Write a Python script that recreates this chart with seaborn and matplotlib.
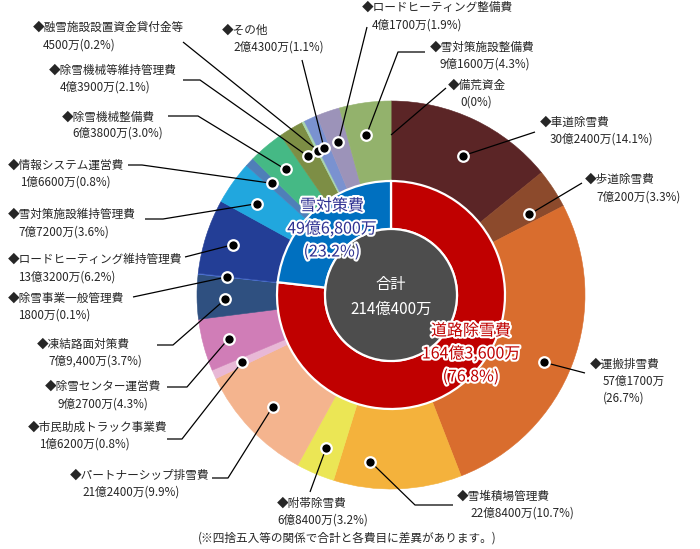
import numpy as np
import matplotlib
matplotlib.use("Agg")
import matplotlib.pyplot as plt
import matplotlib.patheffects as pe
from matplotlib.patches import Circle
import seaborn as sns

# --- data (単位: 万円) ---
group_names = ["道路除雪費", "雪対策費"]
group_values = [1643600, 496800]
group_amounts = ["164億3,600万", "49億6,800万"]
group_pcts = ["(76.8%)", "(23.2%)"]
total_label = "214億400万"

item_names = [
    "車道除雪費", "歩道除雪費", "運搬排雪費", "雪堆積場管理費", "附帯除雪費",
    "パートナーシップ排雪費", "市民助成トラック事業費", "除雪センター運営費",
    "凍結路面対策費", "除雪事業一般管理費",
    "ロードヒーティング維持管理費", "雪対策施設維持管理費", "情報システム運営費",
    "除雪機械整備費", "除雪機械等維持管理費", "融雪施設設置資金貸付金等",
    "その他", "ロードヒーティング整備費", "雪対策施設整備費", "備荒資金",
]
item_values = [
    302400, 70200, 571700, 228400, 68400, 212400, 16200, 92700, 79400, 1800,
    133200, 77200, 16600, 63800, 43900, 4500, 24300, 41700, 91600, 0,
]
item_amounts = [
    "30億2400万", "7億200万", "57億1700万", "22億8400万", "6億8400万",
    "21億2400万", "1億6200万", "9億2700万", "7億9,400万", "1800万",
    "13億3200万", "7億7200万", "1億6600万", "6億3800万", "4億3900万",
    "4500万", "2億4300万", "4億1700万", "9億1600万", "0",
]
item_pcts = [
    "(14.1%)", "(3.3%)", "(26.7%)", "(10.7%)", "(3.2%)", "(9.9%)", "(0.8%)",
    "(4.3%)", "(3.7%)", "(0.1%)", "(6.2%)", "(3.6%)", "(0.8%)", "(3.0%)",
    "(2.1%)", "(0.2%)", "(1.1%)", "(1.9%)", "(4.3%)", "(0%)",
]

# --- styles ---
group_colors = ["#c00000", "#0070c0"]
group_text_colors = ["#c00000", "#2e3192"]
item_colors = [
    "#5b2526", "#8c4a2c", "#d96d2e", "#f4b23c", "#ebe655", "#f4b48e",
    "#e8b8d6", "#d07db7", "#2f5080", "#4a70d8", "#233e96", "#21a7de",
    "#4f7fb8", "#45b985", "#7d8e45", "#a8d4b0", "#7a92d0", "#9c93b9",
    "#93b26c", "#93b26c",
]

CX, CY = 391, 295
R_OUT, R_MID, R_IN = 194, 113, 66

# label layout: (x of line1, y of line1, x of line2, y of line2, leader points, dot radius, dot angle shift)
layout = {
    "車道除雪費": (540, 122, 550, 139, [(535, 132)], 157, 2),
    "歩道除雪費": (585, 179, 596, 197, [(582, 183)], 160, 3),
    "運搬排雪費": (590, 364, 603, 381, [(585, 373)], 167, 3),
    "雪堆積場管理費": (457, 496, 470, 513, [(453, 505), (415, 505)], 168, 9),
    "附帯除雪費": (277, 503, 277, 520, [(310, 492)], 166, 0),
    "パートナーシップ排雪費": (70, 475, 82, 492, [(212, 478), (228, 478)], 163, 0),
    "市民助成トラック事業費": (28, 427, 39, 444, [(167, 439), (182, 439)], 163, 0),
    "除雪センター運営費": (45, 386, 57, 404, [(167, 387), (187, 387)], 168, 0),
    "凍結路面対策費": (37, 344, 48, 361, [(157, 345), (173, 345)], 166, -1),
    "除雪事業一般管理費": (8, 298, 18, 315, [(133, 297)], 165, 0),
    "ロードヒーティング維持管理費": (8, 259, 18, 277, [(185, 257)], 166, 0),
    "雪対策施設維持管理費": (8, 214, 18, 232, [(145, 219), (163, 219)], 162, -1),
    "情報システム運営費": (8, 165, 20, 182, [(128, 165), (142, 165)], 163, 0),
    "除雪機械整備費": (62, 117, 72, 133, [(168, 116), (198, 116)], 164, 0),
    "除雪機械等維持管理費": (49, 70, 60, 87, [(183, 80), (200, 80)], 162, 0),
    "融雪施設設置資金貸付金等": (33, 27, 43, 45, [(183, 42)], 162, 0),
    "その他": (222, 30, 233, 47, [(302, 60)], 162, 0),
    "ロードヒーティング整備費": (362, 7, 372, 25, [(367, 27)], 162, 0),
    "雪対策施設整備費": (430, 47, 440, 64, [(425, 52), (398, 52)], 162, -1),
    "備荒資金": (448, 85, 460, 102, [(446, 88)], 160, 0),
}

sns.set_theme(style="white")
plt.rcParams["font.family"] = ["Noto Sans CJK JP", "DejaVu Sans"]

fig = plt.figure(figsize=(7.0, 5.49), dpi=100)
ax = fig.add_axes([0, 0, 1, 1])

# outer ring (y axis is inverted below, so counterclock + startangle -90 = clockwise from top)
wedges, _ = ax.pie(
    item_values, colors=item_colors, radius=R_OUT, center=(CX, CY),
    startangle=-90, counterclock=True,
    wedgeprops=dict(width=R_OUT - R_MID, linewidth=0.4),
)
for w in wedges:
    w.set_edgecolor(w.get_facecolor())

# inner ring
ax.pie(
    group_values, colors=group_colors, radius=R_MID + 1, center=(CX, CY),
    startangle=-90, counterclock=True,
    wedgeprops=dict(width=R_MID + 1 - R_IN, edgecolor="white", linewidth=1.6),
)
ax.add_patch(Circle((CX, CY), R_IN, facecolor="#4d4d4d", edgecolor="white",
                    linewidth=1.6, zorder=3))

ax.set_xlim(0, 700)
ax.set_ylim(549, 0)
ax.set_aspect("equal")
ax.axis("off")

total = sum(item_values)
vals = np.array(item_values, dtype=float)
mid_frac = (np.cumsum(vals) - vals / 2) / total

fs = 8.4
for i, name in enumerate(item_names):
    x1, y1, x2, y2, pts, r_dot, shift = layout[name]
    ang = 2 * np.pi * mid_frac[i] + np.radians(shift)
    dx = CX + r_dot * np.sin(ang)
    dy = CY - r_dot * np.cos(ang)
    xs = [p[0] for p in pts] + [dx]
    ys = [p[1] for p in pts] + [dy]
    ax.plot(xs, ys, color="black", linewidth=0.9, zorder=4, solid_capstyle="butt")
    if item_values[i] > 0:
        ax.plot(dx, dy, marker="o", markersize=7.6, color="black",
                markeredgecolor="white", markeredgewidth=1.6, zorder=5)
    ax.text(x1, y1, "◆" + name, fontsize=fs, ha="left", va="center", zorder=6)
    if name == "運搬排雪費":
        ax.text(x2, y2, item_amounts[i], fontsize=fs, ha="left", va="center")
        ax.text(x2, y2 + 17, item_pcts[i], fontsize=fs, ha="left", va="center")
    else:
        ax.text(x2, y2, item_amounts[i] + item_pcts[i], fontsize=fs,
                ha="left", va="center")

# inner ring labels
stroke = [pe.withStroke(linewidth=3, foreground="white")]
group_pos = [(471, 331), (332, 206)]
for j in range(2):
    gx, gy = group_pos[j]
    for k, s in enumerate([group_names[j], group_amounts[j], group_pcts[j]]):
        ax.text(gx, gy + k * 23, s, fontsize=11.5, color=group_text_colors[j],
                ha="center", va="center", path_effects=stroke, zorder=6)

ax.text(CX, 284, "合計", fontsize=11, color="white", ha="center", va="center", zorder=6)
ax.text(CX, 309, total_label, fontsize=11, color="white", ha="center", va="center", zorder=6)

ax.text(347, 538, "(※四捨五入等の関係で合計と各費目に差異があります。)", fontsize=fs,
        ha="center", va="center")

fig.savefig("out.png", dpi=100)
